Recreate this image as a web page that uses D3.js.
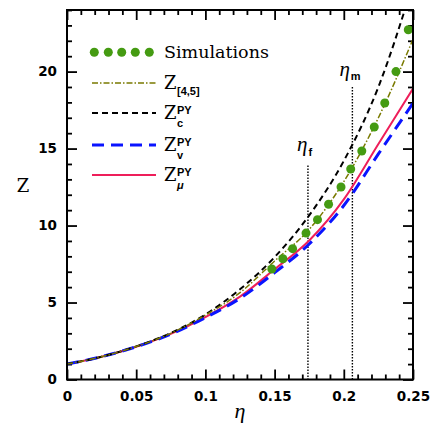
<!DOCTYPE html>
<html>
<head>
<meta charset="utf-8">
<script src="https://cdn.jsdelivr.net/npm/d3@7"></script>
<style>
  body { margin: 0; background: #fff; }
  svg { display: block; }
  .tick text { font-family: "DejaVu Sans", Arial, sans-serif; font-size: 13.5px; font-weight: bold; }
  .tick line { stroke: #000; stroke-width: 1.8; }
  .serif { font-family: "DejaVu Serif", "Liberation Serif", serif; }
  .greek { font-family: "Liberation Serif", "Times New Roman", serif; font-style: italic; }
  .sc { font-family: "Liberation Sans", Arial, sans-serif; font-size: 11px; font-weight: bold; }
</style>
</head>
<body>
<svg width="436" height="436"></svg>
<script>
// packing fraction grid for the theory curves
var etaGrid = [0, 0.025, 0.05, 0.075, 0.1, 0.125, 0.15, 0.175, 0.2, 0.225, 0.25];
var zC = [1, 1.48, 2.15, 3.02, 4.22, 5.86, 7.95, 10.66, 14.2, 19.0, 25.7];
var z45 = [1, 1.48, 2.14, 3.0, 4.18, 5.64, 7.7, 9.75, 12.85, 17.0, 22.1];
var zMu = [1, 1.48, 2.13, 2.96, 4.05, 5.38, 7.16, 9.03, 11.7, 15.3, 18.9];
var zV = [1, 1.48, 2.13, 2.95, 4.02, 5.27, 6.94, 8.8, 11.3, 14.65, 17.95];

// simulation points
var simEta = [0.148, 0.156, 0.163, 0.1727, 0.181, 0.189, 0.198, 0.205, 0.213, 0.222, 0.2296, 0.2377, 0.2466];
var simZ = [7.18, 7.84, 8.5, 9.51, 10.38, 11.38, 12.5, 13.67, 14.84, 16.4, 17.96, 20.0, 22.72];

// freezing / melting
var etaF = 0.1741, etaM = 0.2062;
var etaFTop = 13.9, etaMTop = 19.0;

var xMajor = [0, 0.05, 0.1, 0.15, 0.2, 0.25];
var xLabels = ["0", "0.05", "0.1", "0.15", "0.2", "0.25"];
var yMajor = [0, 5, 10, 15, 20];

var margin = { top: 10, right: 23, bottom: 56.5, left: 67 };
var width = 436 - margin.left - margin.right;
var height = 436 - margin.top - margin.bottom;

var svg = d3.select("svg");
var g = svg.append("g")
  .attr("transform", "translate(" + margin.left + "," + margin.top + ")");

var x = d3.scaleLinear().domain([0, 0.25]).range([0, width]);
var y = d3.scaleLinear().domain([0, 24]).range([height, 0]);

var xMinor = d3.range(0, 0.2501, 0.01).filter(function (v) {
  return xMajor.every(function (m) { return Math.abs(m - v) > 1e-6; });
});
var yMinor = d3.range(0, 24.01, 1).filter(function (v) { return v % 5 !== 0; });

svg.append("defs").append("clipPath").attr("id", "clip")
  .append("rect").attr("width", width).attr("height", height);

// axes
g.append("g").attr("transform", "translate(0," + height + ")")
  .call(d3.axisBottom(x).tickValues(xMajor).tickSize(-10).tickPadding(12)
    .tickFormat(function (d, i) { return xLabels[i]; }));
g.append("g").attr("transform", "translate(0," + height + ")")
  .call(d3.axisBottom(x).tickValues(xMinor).tickSize(-5).tickFormat(""));
g.append("g")
  .call(d3.axisTop(x).tickValues(xMajor).tickSize(-10).tickFormat(""));
g.append("g")
  .call(d3.axisTop(x).tickValues(xMinor).tickSize(-5).tickFormat(""));

g.append("g")
  .call(d3.axisLeft(y).tickValues(yMajor).tickSize(-10).tickPadding(10));
g.append("g")
  .call(d3.axisLeft(y).tickValues(yMinor).tickSize(-5).tickFormat(""));
g.append("g").attr("transform", "translate(" + width + ",0)")
  .call(d3.axisRight(y).tickValues(yMajor).tickSize(-10).tickFormat(""));
g.append("g").attr("transform", "translate(" + width + ",0)")
  .call(d3.axisRight(y).tickValues(yMinor).tickSize(-5).tickFormat(""));

g.selectAll(".domain").remove();

// vertical dotted markers
function vline(eta, top) {
  g.append("line")
    .attr("x1", x(eta)).attr("x2", x(eta))
    .attr("y1", y(top)).attr("y2", height)
    .attr("stroke", "#000").attr("stroke-width", 1.4)
    .attr("stroke-dasharray", "1.5,1.5");
}
vline(etaF, etaFTop);
vline(etaM, etaMTop);

g.append("text").attr("class", "greek")
  .attr("x", x(etaF) - 11).attr("y", y(etaFTop) - 14)
  .style("font-size", "21px")
  .text("η")
  .append("tspan").attr("class", "sc").attr("dy", 5).attr("dx", 1)
  .style("font-style", "normal").text("f");
g.append("text").attr("class", "greek")
  .attr("x", x(etaM) - 13).attr("y", y(etaMTop) - 11)
  .style("font-size", "21px")
  .text("η")
  .append("tspan").attr("class", "sc").attr("dy", 4).attr("dx", 1)
  .style("font-style", "normal").text("m");

// curves
var plot = g.append("g").attr("clip-path", "url(#clip)");
var line = d3.line()
  .x(function (d) { return x(d[0]); })
  .y(function (d) { return y(d[1]); })
  .curve(d3.curveMonotoneX);

var series = [
  { z: zMu, color: "#ee1e5a", width: 2, dash: null },
  { z: zV, color: "#0a14ff", width: 3, dash: "12,7" },
  { z: zC, color: "#000", width: 2, dash: "6,4" },
  { z: z45, color: "#7a7a00", width: 1.5, dash: "6,2,1.5,2" }
];

series.forEach(function (s) {
  plot.append("path")
    .datum(etaGrid.map(function (e, i) { return [e, s.z[i]]; }))
    .attr("fill", "none")
    .attr("stroke", s.color)
    .attr("stroke-width", s.width)
    .attr("stroke-dasharray", s.dash)
    .attr("d", line);
});

plot.selectAll(".sim")
  .data(simEta)
  .enter()
  .append("circle")
  .attr("class", "sim")
  .attr("cx", function (d) { return x(d); })
  .attr("cy", function (d, i) { return y(simZ[i]); })
  .attr("r", 4.5)
  .attr("fill", "#459b12");

// frame
g.append("rect").attr("width", width).attr("height", height)
  .attr("fill", "none").attr("stroke", "#000").attr("stroke-width", 2);

// axis titles
svg.append("text").attr("class", "serif")
  .attr("x", 23).attr("y", 192).attr("text-anchor", "middle")
  .style("font-size", "18px").text("Z");
svg.append("text").attr("class", "greek")
  .attr("x", margin.left + width / 2).attr("y", 418).attr("text-anchor", "middle")
  .style("font-size", "22px").text("η");

// legend
var leg = svg.append("g");
var lx0 = 92, lx1 = 156, tx = 164;

[94.3, 108.3, 121.7, 135.3, 149.3].forEach(function (cx) {
  leg.append("circle").attr("cx", cx).attr("cy", 52.3).attr("r", 4.5).attr("fill", "#459b12");
});
leg.append("text").attr("class", "serif").attr("x", tx).attr("y", 57.5)
  .style("font-size", "17.5px").text("Simulations");

var legRows = [
  { y: 83, s: series[3], sup: null, sub: "[4,5]" },
  { y: 113, s: series[2], sup: "PY", sub: "c" },
  { y: 145, s: series[1], sup: "PY", sub: "v" },
  { y: 175, s: series[0], sup: "PY", sub: "μ" }
];
legRows.forEach(function (r) {
  leg.append("line").attr("x1", lx0).attr("x2", lx1).attr("y1", r.y).attr("y2", r.y)
    .attr("stroke", r.s.color).attr("stroke-width", r.s.width)
    .attr("stroke-dasharray", r.s.dash);
  leg.append("text").attr("class", "serif").attr("x", tx).attr("y", r.y + 5.5)
    .style("font-size", "18px").text("Z");
  if (r.sup) {
    leg.append("text").attr("class", "sc").attr("x", tx + 13).attr("y", r.y + 0.5)
      .text(r.sup);
    leg.append("text").attr("class", "sc").attr("x", tx + 13).attr("y", r.y + 13.5)
      .style("font-style", r.sub === "μ" ? "italic" : "normal").text(r.sub);
  } else {
    leg.append("text").attr("class", "sc").attr("x", tx + 13).attr("y", r.y + 12)
      .text(r.sub);
  }
});
</script>
</body>
</html>
